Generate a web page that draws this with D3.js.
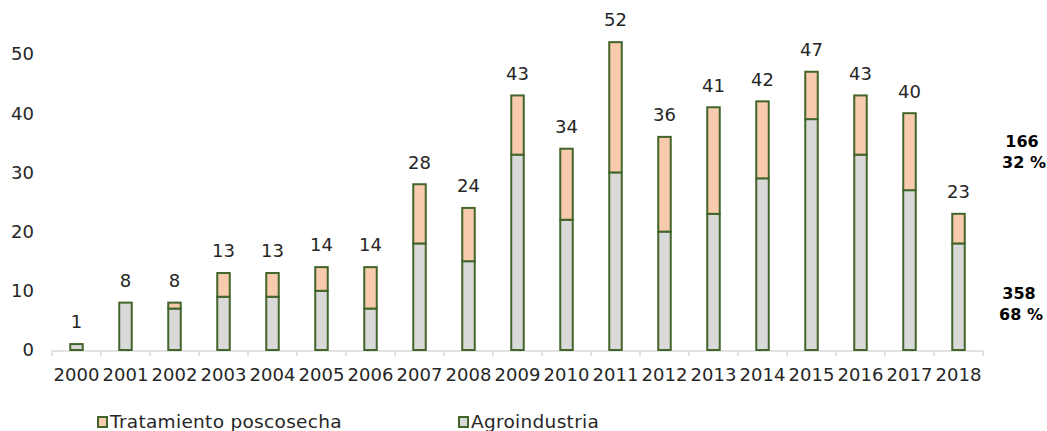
<!DOCTYPE html>
<html>
<head>
<meta charset="utf-8">
<script src="https://cdn.jsdelivr.net/npm/d3@7"></script>
<style>
  body { margin: 0; background: #fff; }
  text { font-family: "DejaVu Sans", sans-serif; }
</style>
</head>
<body>
<div id="chart"></div>
<script>
const years = ["2000","2001","2002","2003","2004","2005","2006","2007","2008","2009",
               "2010","2011","2012","2013","2014","2015","2016","2017","2018"];
const agro = [1, 8, 7, 9, 9, 10, 7, 18, 15, 33, 22, 30, 20, 23, 29, 39, 33, 27, 18];
const trat = [0, 0, 1, 4, 4, 4, 7, 10, 9, 10, 12, 22, 16, 18, 13, 8, 10, 13, 5];
const yTicks = [0, 10, 20, 30, 40, 50];
const seriesNames = ["Agroindustria", "Tratamiento poscosecha"];
const totalsRight = [{ value: "166", pct: "32 %" }, { value: "358", pct: "68 %" }];

const width = 1047, height = 431;

const svg = d3.select("#chart").append("svg")
  .attr("width", width)
  .attr("height", height);

const x = d3.scaleBand().domain(years).range([52, 983]);
const y = d3.scaleLinear().domain([0, 50]).range([350, 54]);

const rows = years.map((yr, i) => ({ year: yr, agro: agro[i], trat: trat[i] }));
const stack = d3.stack().keys(["agro", "trat"])(rows);
const fills = { agro: "#d9d9d9", trat: "#f8cbad" };

const barW = x.bandwidth() * 0.255;

// axis line and ticks
svg.append("line")
  .attr("x1", 52).attr("x2", 983)
  .attr("y1", y(0) + 1).attr("y2", y(0) + 1)
  .attr("stroke", "#d9d9d9").attr("stroke-width", 1.5);
svg.selectAll(".tick")
  .data(years.concat(["end"]))
  .enter().append("line")
  .attr("x1", (d, i) => 52 + i * x.step())
  .attr("x2", (d, i) => 52 + i * x.step())
  .attr("y1", y(0) + 1).attr("y2", y(0) + 6)
  .attr("stroke", "#d9d9d9").attr("stroke-width", 1.5);

// y labels
svg.selectAll(".ylab")
  .data(yTicks)
  .enter().append("text")
  .attr("x", 34)
  .attr("y", d => y(d))
  .attr("dy", "0.35em")
  .attr("text-anchor", "end")
  .attr("font-size", 18)
  .attr("fill", "#262626")
  .text(d => d);

// x labels
svg.selectAll(".xlab")
  .data(years)
  .enter().append("text")
  .attr("x", d => x(d) + x.bandwidth() / 2)
  .attr("y", 375)
  .attr("dy", "0.35em")
  .attr("text-anchor", "middle")
  .attr("font-size", 18)
  .attr("fill", "#262626")
  .text(d => d);

// bars
stack.forEach(layer => {
  svg.selectAll(".bar-" + layer.key)
    .data(layer.filter(d => d[1] > d[0]))
    .enter().append("rect")
    .attr("x", d => x(d.data.year) + (x.bandwidth() - barW) / 2)
    .attr("y", d => y(d[1]))
    .attr("width", barW)
    .attr("height", d => y(d[0]) - y(d[1]))
    .attr("fill", fills[layer.key])
    .attr("stroke", "#41652a")
    .attr("stroke-width", 2);
});

// total labels
svg.selectAll(".total")
  .data(rows)
  .enter().append("text")
  .attr("x", d => x(d.year) + x.bandwidth() / 2)
  .attr("y", d => y(d.agro + d.trat) - 22)
  .attr("dy", "0.35em")
  .attr("text-anchor", "middle")
  .attr("font-size", 18)
  .attr("fill", "#262626")
  .text(d => d.agro + d.trat);

// right side summary
const sumPos = [{ y1: 141, y2: 162, cx: 1022 }, { y1: 293, y2: 314, cx: 1019 }];
totalsRight.forEach((t, i) => {
  const g = svg.append("g").attr("font-weight", "bold").attr("font-size", 16)
    .attr("text-anchor", "middle").attr("fill", "#000");
  g.append("text").attr("x", sumPos[i].cx).attr("y", sumPos[i].y1).attr("dy", "0.35em").text(t.value);
  g.append("text").attr("x", sumPos[i].cx + 2).attr("y", sumPos[i].y2).attr("dy", "0.35em").text(t.pct);
});

// legend
const legend = [
  { name: seriesNames[1], fill: fills.trat, x: 97 },
  { name: seriesNames[0], fill: fills.agro, x: 458 }
];
legend.forEach(l => {
  svg.append("rect")
    .attr("x", l.x + 1).attr("y", 417)
    .attr("width", 9).attr("height", 10)
    .attr("fill", l.fill).attr("stroke", "#41652a").attr("stroke-width", 2);
  svg.append("text")
    .attr("x", l.x + 13).attr("y", 428)
    .attr("font-family", "Noto Sans, sans-serif")
    .attr("font-size", 18.5)
    .attr("letter-spacing", 0.3)
    .attr("fill", "#262626")
    .text(l.name);
});
</script>
</body>
</html>
